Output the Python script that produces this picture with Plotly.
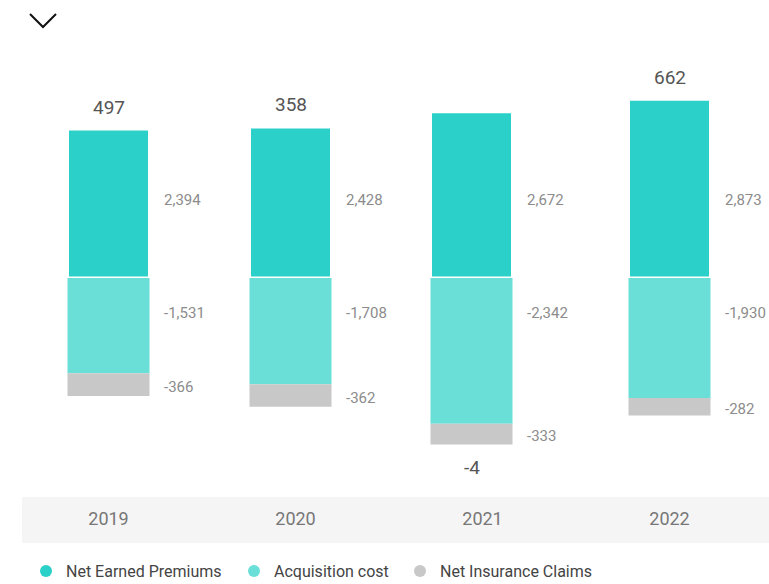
import plotly.graph_objects as go

years = ["2019", "2020", "2021", "2022"]
net_earned_premiums = [2394, 2428, 2672, 2873]
acquisition_cost = [-1531, -1708, -2342, -1930]
net_insurance_claims = [-366, -362, -333, -282]
totals = [497, 358, -4, 662]
series_names = ["Net Earned Premiums", "Acquisition cost", "Net Insurance Claims"]

# ---- styling / layout constants ----
W, H = 769, 584
ML, MR, MT, MB = 15, 6, 40, 114
PW, PH = W - ML - MR, H - MT - MB
PX_PER_UNIT = 0.0622
ZERO_PX = 278  # page y of zero line
Y_TOP = (ZERO_PX - MT) / PX_PER_UNIT
Y_BOT = -(MT + PH - ZERO_PX) / PX_PER_UNIT
CAT_PX = PW / 4
BAR_W_PX = 82
bar_w = BAR_W_PX / CAT_PX
shift_px = [0, -5, -11, 0]
offsets = [-bar_w / 2 + s / CAT_PX for s in shift_px]
legend_marker_px = [46, 254, 420]

colors = ["#2BD1C8", "#6ADFD8", "#C8C8C8"]
FONT = "Roboto, Open Sans, sans-serif"


def px_x(px):
    return (px - ML) / PW


def px_y(py):
    return (MT + PH - py) / PH


fig = go.Figure()
series = [net_earned_premiums, acquisition_cost, net_insurance_claims]
for i, (name, vals) in enumerate(zip(series_names, series)):
    fig.add_trace(go.Bar(
        x=years, y=vals, name=name, showlegend=False,
        width=bar_w, offset=offsets,
        marker=dict(color=colors[i],
                    line=dict(color="white", width=3 if i == 0 else 0)),
        hoverinfo="skip",
    ))
# legend entries with circular markers, each in its own legend box
legend_ids = ["legend", "legend2", "legend3"]
for i, name in enumerate(series_names):
    fig.add_trace(go.Scatter(
        x=[None], y=[None], mode="markers", name=name, legend=legend_ids[i],
        marker=dict(symbol="circle", size=17, color=colors[i]),
    ))

ann = []
label_font = dict(family=FONT, size=15, color="#8C8C8C")
for i, yr in enumerate(years):
    xs = BAR_W_PX / 2 + 12 + shift_px[i]
    ann.append(dict(x=i, xref="x", y=px_y(200), yref="paper",
                    text=f"{net_earned_premiums[i]:,}", showarrow=False,
                    xanchor="left", yanchor="middle", xshift=xs, font=label_font))
    ann.append(dict(x=i, xref="x", y=px_y(313), yref="paper",
                    text=f"{acquisition_cost[i]:,}", showarrow=False,
                    xanchor="left", yanchor="middle", xshift=xs, font=label_font))
    claims_mid = acquisition_cost[i] + net_insurance_claims[i] / 2
    ann.append(dict(x=i, xref="x", y=claims_mid, yref="y",
                    text=f"{net_insurance_claims[i]:,}", showarrow=False,
                    xanchor="left", yanchor="middle", xshift=xs, yshift=-2, font=label_font))
    if totals[i] >= 0:
        ty, ysh = net_earned_premiums[i], 22
    else:
        ty, ysh = acquisition_cost[i] + net_insurance_claims[i], -23
    ann.append(dict(x=i, xref="x", y=ty, yref="y", text=f"{totals[i]:,}",
                    showarrow=False, xanchor="center", yanchor="middle",
                    xshift=shift_px[i], yshift=ysh,
                    font=dict(family=FONT, size=19, color="#555555")))

shapes = [
    dict(type="rect", xref="paper", yref="paper", layer="below",
         x0=px_x(22), x1=px_x(775), y0=px_y(497), y1=px_y(543),
         fillcolor="#F5F5F5", line=dict(width=0)),
    dict(type="path", xref="paper", yref="paper",
         path=f"M {px_x(30)} {px_y(14)} L {px_x(43)} {px_y(27)} L {px_x(56)} {px_y(14)}",
         line=dict(color="#111111", width=2)),
]

legend_common = dict(orientation="h", xref="container", yref="container",
                     xanchor="left", yanchor="middle", y=(H - 571) / H,
                     font=dict(family=FONT, size=16, color="#444444"),
                     itemsizing="constant", bgcolor="rgba(0,0,0,0)")
legends = {}
for i, lid in enumerate(legend_ids):
    legends[lid] = dict(legend_common, x=(legend_marker_px[i] - 20) / W)

fig.update_layout(
    width=W, height=H,
    margin=dict(l=ML, r=MR, t=MT, b=MB, autoexpand=False),
    paper_bgcolor="white", plot_bgcolor="white",
    barmode="relative",
    font=dict(family=FONT),
    xaxis=dict(type="category", range=[-0.5, 3.5], showgrid=False, zeroline=False,
               showline=False, ticks="", ticklabelstandoff=36, automargin=False,
               tickfont=dict(family=FONT, size=18, color="#777777")),
    yaxis=dict(range=[Y_BOT, Y_TOP], visible=False, showgrid=False, zeroline=False,
               automargin=False),
    annotations=ann,
    shapes=shapes,
    showlegend=True,
    **legends,
)

fig.write_html("out.html", config={"displayModeBar": False},
               post_script="document.body.style.margin='0';document.body.style.overflow='hidden';")
